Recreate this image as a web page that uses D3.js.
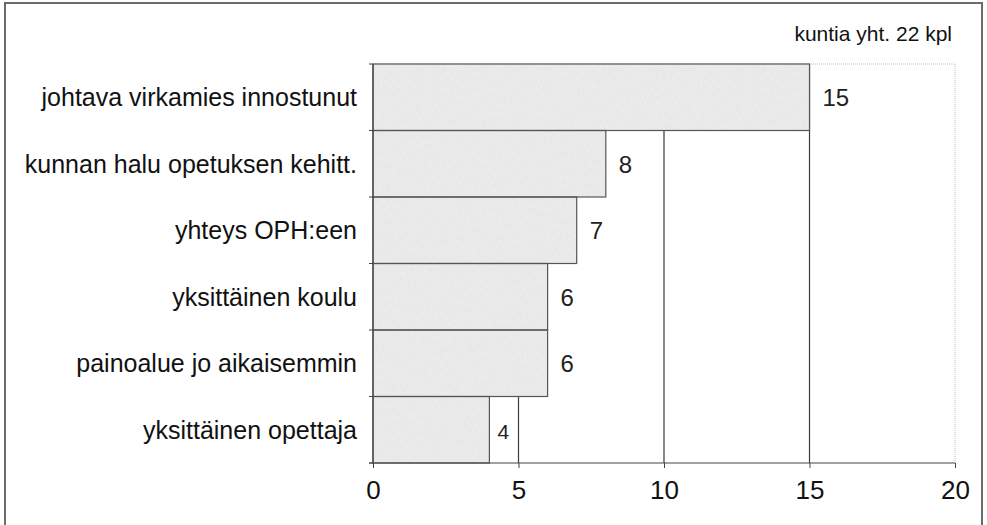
<!DOCTYPE html>
<meta charset="utf-8">
<title>Kuntia yht. 22 kpl</title>
<style>
body { margin: 0; background: #fff; }
text { font-family: Arial, "Liberation Sans", sans-serif; }
</style>
<body>
<script src="https://cdn.jsdelivr.net/npm/d3@7"></script>
<script>

var width = 987,
    height = 525;

var categories = ["johtava virkamies innostunut", "kunnan halu opetuksen kehitt.",
                  "yhteys OPH:een", "yksittäinen koulu", "painoalue jo aikaisemmin",
                  "yksittäinen opettaja"];
var values = [15, 8, 7, 6, 6, 4];
var tickValues = [0, 5, 10, 15, 20];
var note = "kuntia yht. 22 kpl";

var margin = {top: 64, right: 32, bottom: 62, left: 373};

var x = d3.scaleLinear()
    .domain([0, 20])
    .range([margin.left, width - margin.right]);

var y = d3.scaleBand()
    .domain(categories)
    .range([margin.top, height - margin.bottom])
    .padding(0);

var svg = d3.select("body").append("svg")
    .attr("width", width)
    .attr("height", height);

// grainy fill, like the scanned original
var filter = svg.append("defs").append("filter")
    .attr("id", "grain")
    .attr("x", 0).attr("y", 0).attr("width", 1).attr("height", 1);
filter.append("feTurbulence")
    .attr("type", "fractalNoise")
    .attr("baseFrequency", "0.8 0.25")
    .attr("numOctaves", 2)
    .attr("seed", 3)
    .attr("result", "noise");
filter.append("feColorMatrix")
    .attr("in", "noise")
    .attr("type", "matrix")
    .attr("values", "0 0 0 0 0.55  0 0 0 0 0.55  0 0 0 0 0.55  0 0 0 0.3 -0.08")
    .attr("result", "speck");
filter.append("feComposite")
    .attr("in", "speck")
    .attr("in2", "SourceGraphic")
    .attr("operator", "in")
    .attr("result", "speckIn");
var merge = filter.append("feMerge");
merge.append("feMergeNode").attr("in", "SourceGraphic");
merge.append("feMergeNode").attr("in", "speckIn");

// outer frame
svg.append("rect")
    .attr("x", 5)
    .attr("y", 3)
    .attr("width", 977)
    .attr("height", 540)
    .attr("fill", "none")
    .attr("stroke", "#6b6b6b")
    .attr("stroke-width", 2);

// plot area border (dotted, light)
svg.append("path")
    .attr("d", "M" + x(0) + "," + y.range()[0] + "H" + x(20) + "V" + y.range()[1])
    .attr("fill", "none")
    .attr("stroke", "#bdbdbd")
    .attr("stroke-dasharray", "1,1");

// gridlines
svg.selectAll(".grid")
    .data(tickValues.filter(function(d) { return d > 0 && d < 20; }))
  .enter().append("line")
    .attr("class", "grid")
    .attr("x1", function(d) { return x(d); })
    .attr("x2", function(d) { return x(d); })
    .attr("y1", y.range()[0])
    .attr("y2", y.range()[1])
    .attr("stroke", "#3a3a3a")
    .attr("stroke-width", 1.2);

var rows = categories.map(function(c, i) { return {name: c, value: values[i]}; });

svg.selectAll(".bar")
    .data(rows)
  .enter().append("rect")
    .attr("class", "bar")
    .attr("x", x(0))
    .attr("y", function(d) { return y(d.name); })
    .attr("width", function(d) { return x(d.value) - x(0); })
    .attr("height", y.bandwidth())
    .attr("fill", "#ececec")
    .attr("filter", "url(#grain)");

svg.selectAll(".barline")
    .data(rows)
  .enter().append("rect")
    .attr("class", "barline")
    .attr("x", x(0))
    .attr("y", function(d) { return y(d.name); })
    .attr("width", function(d) { return x(d.value) - x(0); })
    .attr("height", y.bandwidth())
    .attr("fill", "none")
    .attr("stroke", "#555")
    .attr("stroke-width", 1.2);

// value labels
svg.selectAll(".val")
    .data(rows)
  .enter().append("text")
    .attr("class", "val")
    .attr("x", function(d) { return x(d.value) + (d.value == 4 ? 8 : 13); })
    .attr("y", function(d) { return y(d.name) + y.bandwidth() / 2 + 9; })
    .attr("font-size", function(d) { return d.value == 4 ? 21 : 24; })
    .attr("fill", "#222")
    .text(function(d) { return d.value; });

// category labels
svg.selectAll(".cat")
    .data(rows)
  .enter().append("text")
    .attr("class", "cat")
    .attr("x", x(0) - 16)
    .attr("y", function(d) { return y(d.name) + y.bandwidth() / 2 + 9; })
    .attr("text-anchor", "end")
    .attr("font-size", 25)
    .attr("fill", "#111")
    .text(function(d) { return d.name; });

// y axis line with band ticks
var yAxis = svg.append("g")
    .attr("transform", "translate(" + x(0) + ",0)");
yAxis.append("line")
    .attr("y1", y.range()[0])
    .attr("y2", y.range()[1])
    .attr("stroke", "#444")
    .attr("stroke-width", 1.2);
yAxis.selectAll("line.tk")
    .data(d3.range(categories.length + 1))
  .enter().append("line")
    .attr("class", "tk")
    .attr("x1", -4)
    .attr("x2", 0)
    .attr("y1", function(i) { return y.range()[0] + i * y.step(); })
    .attr("y2", function(i) { return y.range()[0] + i * y.step(); })
    .attr("stroke", "#444");

// x axis
var xAxis = svg.append("g")
    .attr("transform", "translate(0," + y.range()[1] + ")")
    .call(d3.axisBottom(x).tickValues(tickValues).tickSize(5).tickPadding(13));
xAxis.select(".domain").attr("stroke", "#444").attr("stroke-width", 1.2)
    .attr("d", "M" + (x(0) - 4) + ",0H" + x(20));
xAxis.selectAll(".tick line").attr("stroke", "#444");
xAxis.selectAll(".tick text")
    .attr("font-size", 26)
    .attr("font-family", "Arial, 'Liberation Sans', sans-serif")
    .attr("fill", "#111");

svg.append("text")
    .attr("x", 952)
    .attr("y", 41)
    .attr("text-anchor", "end")
    .attr("font-size", 21)
    .attr("fill", "#111")
    .text(note);

</script>
